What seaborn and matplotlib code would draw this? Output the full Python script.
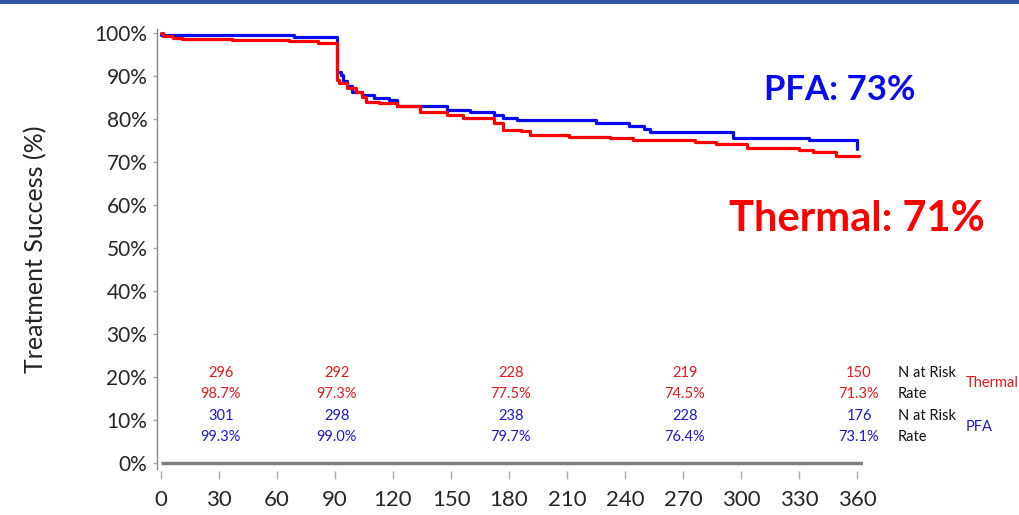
import matplotlib
matplotlib.use("Agg")
import matplotlib.pyplot as plt
import seaborn as sns
import pandas as pd
from matplotlib.ticker import FuncFormatter

# Kaplan-Meier style step curves (day, % success)
thermal_days = [0, 1, 6, 11, 37, 66, 81, 91, 92, 96, 101, 104, 106, 113, 122, 134,
                148, 156, 172, 177, 186, 191, 211, 232, 244, 276, 287, 303, 330,
                337, 349, 361]
thermal_pct = [100, 99.2, 98.8, 98.5, 98.3, 98.1, 97.7, 89.1, 88.3, 87.1, 86.3, 85.2,
               84.0, 83.7, 82.9, 81.7, 81.0, 80.2, 79.0, 77.5, 77.1, 76.2, 75.9, 75.5,
               75.1, 74.6, 74.1, 73.3, 72.8, 72.3, 71.4, 71.4]
pfa_days = [0, 69, 91, 93, 94, 96, 99, 104, 110, 118, 122, 148, 160, 172, 177, 184,
            225, 242, 250, 253, 296, 335, 360]
pfa_pct = [99.6, 99.0, 91.0, 90.2, 88.7, 87.6, 86.3, 85.6, 84.8, 84.3, 82.9, 82.1,
           81.5, 81.0, 80.2, 79.7, 79.1, 78.4, 77.6, 77.0, 75.6, 75.0, 73.1]

# numbers at risk table
risk_days = [30, 90, 180, 270, 360]
thermal_n = ["296", "292", "228", "219", "150"]
thermal_rate = ["98.7%", "97.3%", "77.5%", "74.5%", "71.3%"]
pfa_n = ["301", "298", "238", "228", "176"]
pfa_rate = ["99.3%", "99.0%", "79.7%", "76.4%", "73.1%"]

RED = "#ff0000"
BLUE = "#0a0af0"
TXT_RED = "#e31a1c"
TXT_BLUE = "#1a1acc"

df = pd.concat([
    pd.DataFrame({"day": pfa_days, "pct": pfa_pct, "arm": "PFA"}),
    pd.DataFrame({"day": thermal_days, "pct": thermal_pct, "arm": "Thermal"}),
])

sns.set_style("white")
plt.rcParams["font.family"] = ["Lato", "DejaVu Sans"]

fig = plt.figure(figsize=(10.2, 5.15), dpi=100)
ax = fig.add_axes([0.154, 0.0885, 0.692, 0.856])

# top banner stripe
fig.add_artist(plt.Rectangle((0, 0.992), 1, 0.008, transform=fig.transFigure,
                             color="#2f55a5", lw=0))

sns.lineplot(data=df, x="day", y="pct", hue="arm", hue_order=["PFA", "Thermal"],
             palette={"PFA": BLUE, "Thermal": RED}, estimator=None,
             drawstyle="steps-post", linewidth=2.3, legend=False, ax=ax)

ax.hlines(0, 0, 363, color="#808080", lw=2.5, zorder=1)

ax.set_xlim(-2, 363)
ax.set_ylim(-1.5, 101)
ax.set_xticks(range(0, 361, 30))
ax.set_yticks(range(0, 101, 10))
ax.yaxis.set_major_formatter(FuncFormatter(lambda v, p: f"{v:.0f}%"))
ax.set_xlabel("")
ax.set_ylabel("Treatment Success (%)", fontsize=18, labelpad=34, color="#222222")

for s in ["top", "right"]:
    ax.spines[s].set_visible(False)
ax.spines["bottom"].set_position(("outward", 1))
ax.spines["bottom"].set_visible(False)
ax.spines["left"].set_color("#888888")
ax.spines["left"].set_linewidth(1)

ax.tick_params(axis="x", direction="out", length=6, width=1, color="#aaaaaa",
               labelsize=16, pad=8, bottom=True)
ax.tick_params(axis="y", direction="out", length=3, width=1, color="#aaaaaa",
               labelsize=15, pad=4, left=True)

# at-risk table
rows = [(thermal_n, 21, TXT_RED), (thermal_rate, 16, TXT_RED),
        (pfa_n, 11, TXT_BLUE), (pfa_rate, 6, TXT_BLUE)]
for labels, yy, col in rows:
    for d, lab in zip(risk_days, labels):
        ax.text(d + 1, yy, lab, color=col, fontsize=10.5, ha="center", va="center")

for yy, lab in [(21, "N at Risk"), (16, "Rate"), (11, "N at Risk"), (6, "Rate")]:
    ax.text(381, yy, lab, color="#111111", fontsize=10.5, ha="left", va="center",
            clip_on=False)
ax.text(416, 18.6, "Thermal", color=TXT_RED, fontsize=10.5, ha="left", va="center",
        clip_on=False)
ax.text(416, 8.4, "PFA", color=TXT_BLUE, fontsize=10.5, ha="left", va="center",
        clip_on=False)

fig.text(0.8235, 0.825, "PFA: 73%", color=BLUE, fontsize=25, fontweight="bold",
         ha="center", va="center")
fig.text(0.840, 0.574, "Thermal: 71%", color=RED, fontsize=30, fontweight="bold",
         ha="center", va="center")

fig.savefig("out.png", dpi=100)
